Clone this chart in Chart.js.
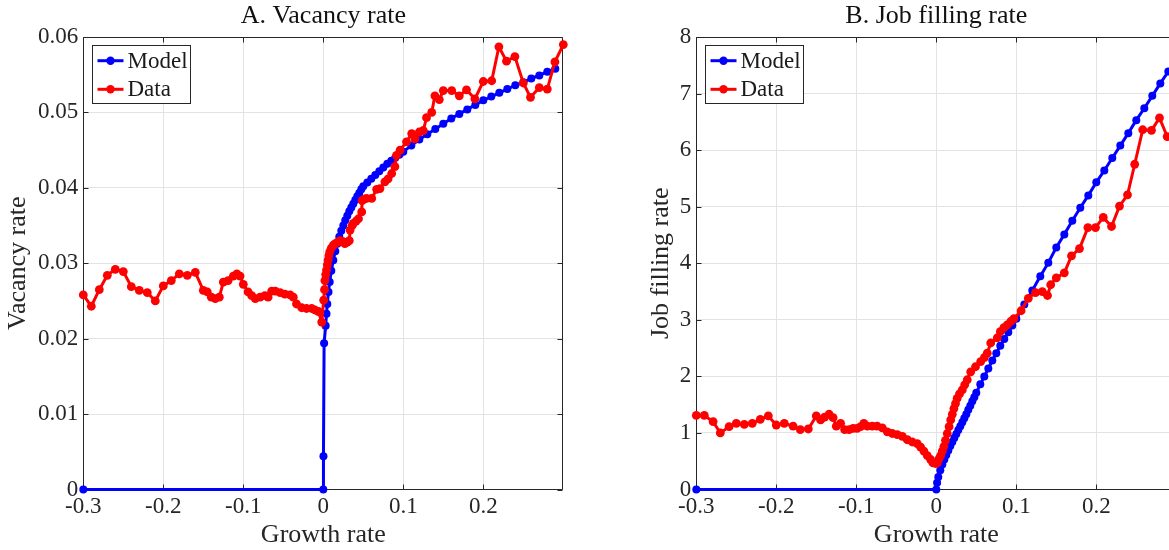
<!DOCTYPE html>
<html><head><meta charset="utf-8">
<script src="https://cdn.jsdelivr.net/npm/chart.js@4.4.1/dist/chart.umd.min.js"></script>
<style>
html,body{margin:0;padding:0;background:#fff;overflow:hidden;width:1169px;height:550px;position:relative}
.wrap{position:absolute;top:0;height:550px}
#wA{left:0;width:613px}
#wB{left:613px;width:613px}
canvas{display:block}
</style></head><body>
<div class="wrap" id="wA"><canvas id="cA" width="613" height="550"></canvas></div>
<div class="wrap" id="wB"><canvas id="cB" width="613" height="550"></canvas></div>
<script>
// ---- tick values and labels ----
const xTicks = [-0.3, -0.2, -0.1, 0, 0.1, 0.2];
const xTickLabels = ['-0.3', '-0.2', '-0.1', '0', '0.1', '0.2'];
const yTicksA = [0, 0.01, 0.02, 0.03, 0.04, 0.05, 0.06];
const yTickLabelsA = ['0', '0.01', '0.02', '0.03', '0.04', '0.05', '0.06'];
const yTicksB = [0, 1, 2, 3, 4, 5, 6, 7, 8];
const yTickLabelsB = ['0', '1', '2', '3', '4', '5', '6', '7', '8'];
const seriesNames = ['Model', 'Data'];

// ---- Panel A: vacancy rate ----
const modelA_x = [-0.3, 0, 0.0002, 0.001, 0.003, 0.004, 0.005, 0.0065, 0.008, 0.01,
  0.0125, 0.015, 0.0175, 0.02, 0.0225, 0.025, 0.0275, 0.03, 0.0325, 0.035,
  0.0375, 0.04, 0.0425, 0.045, 0.0475, 0.05, 0.055, 0.06, 0.065, 0.07,
  0.075, 0.08, 0.085, 0.09, 0.095, 0.1, 0.11, 0.12, 0.13, 0.14,
  0.15, 0.16, 0.17, 0.18, 0.19, 0.2, 0.21, 0.22, 0.23, 0.24, 0.25, 0.26, 0.27, 0.28, 0.29];
const modelA_y = [0, 0, 0.0044, 0.0194, 0.0217, 0.0233, 0.0246, 0.0262, 0.0275, 0.0290,
  0.0304, 0.0316, 0.0326, 0.0335, 0.0343, 0.0350, 0.0357, 0.0363, 0.0369, 0.0374,
  0.0379, 0.0384, 0.0389, 0.0393, 0.0398, 0.0402, 0.0407, 0.0412, 0.0417, 0.0422,
  0.0427, 0.0432, 0.0436, 0.0440, 0.0444, 0.0448, 0.0456, 0.0464, 0.0471, 0.0478,
  0.0485, 0.0492, 0.0498, 0.0504, 0.0510, 0.0516, 0.0521, 0.0526, 0.0531, 0.0536, 0.0540, 0.0545, 0.0549, 0.0554, 0.0558];
const dataA_x = [-0.3, -0.29, -0.28, -0.27, -0.26, -0.25, -0.24, -0.23, -0.22, -0.21,
  -0.2, -0.19, -0.18, -0.17, -0.16, -0.15, -0.145, -0.14, -0.135, -0.13,
  -0.125, -0.119, -0.1125, -0.108, -0.104, -0.1, -0.094, -0.0895, -0.085, -0.079,
  -0.073, -0.069, -0.0645, -0.06, -0.054, -0.048, -0.0415, -0.0375, -0.0335, -0.027,
  -0.021, -0.0145, -0.0105, -0.006, -0.002, 0.0005, 0.0015, 0.002, 0.003, 0.004,
  0.005, 0.006, 0.007, 0.008, 0.01, 0.0125, 0.015, 0.018, 0.021, 0.024,
  0.027, 0.03, 0.0325, 0.0335, 0.036, 0.0375, 0.041, 0.044, 0.048, 0.0485,
  0.051, 0.054, 0.0605, 0.0667, 0.0708, 0.077, 0.081, 0.0855, 0.0895, 0.0915,
  0.096, 0.104, 0.1105, 0.1145, 0.12, 0.125, 0.129, 0.1355, 0.1395, 0.145,
  0.15, 0.1605, 0.17, 0.179, 0.1895, 0.2, 0.2105, 0.2195, 0.229, 0.2395,
  0.25, 0.259, 0.27, 0.28, 0.2895, 0.3];
const dataA_y = [0.0258, 0.0243, 0.0265, 0.0284, 0.0292, 0.0289, 0.0269, 0.0264, 0.0261, 0.0250,
  0.0270, 0.0277, 0.0286, 0.0284, 0.0288, 0.0264, 0.0262, 0.0255, 0.0253, 0.0255,
  0.0275, 0.0277, 0.0283, 0.0286, 0.0283, 0.0272, 0.0262, 0.0257, 0.0253, 0.0255,
  0.0257, 0.0255, 0.0263, 0.0263, 0.0261, 0.0259, 0.0258, 0.0255, 0.0246, 0.0241,
  0.0240, 0.0240, 0.0238, 0.0236, 0.0222, 0.0251, 0.0265, 0.0277, 0.0285, 0.0291,
  0.0298, 0.0304, 0.0310, 0.0315, 0.0320, 0.0324, 0.0326, 0.0328, 0.0330, 0.0329,
  0.0326, 0.0328, 0.0330, 0.0344, 0.0350, 0.0353, 0.0356, 0.0359, 0.0368, 0.0383,
  0.0385, 0.0386, 0.0386, 0.0398, 0.0399, 0.0408, 0.0412, 0.0419, 0.0428, 0.0443,
  0.0450, 0.0461, 0.0472, 0.0465, 0.0474, 0.0476, 0.0493, 0.0500, 0.0522, 0.0517,
  0.0529, 0.0529, 0.0522, 0.0530, 0.0518, 0.0541, 0.0542, 0.0587, 0.0568, 0.0574,
  0.0539, 0.0520, 0.0533, 0.0531, 0.0567, 0.0590];

// ---- Panel B: job filling rate ----
const modelB_x = [-0.3, 0, 0.001, 0.0025, 0.005, 0.0075, 0.01, 0.0125, 0.015, 0.0175,
  0.02, 0.0225, 0.025, 0.0275, 0.03, 0.0325, 0.035, 0.0375, 0.04, 0.0425,
  0.045, 0.0475, 0.05, 0.055, 0.06, 0.065, 0.07, 0.075, 0.08, 0.085,
  0.09, 0.095, 0.1, 0.11, 0.12, 0.13, 0.14, 0.15, 0.16, 0.17,
  0.18, 0.19, 0.2, 0.21, 0.22, 0.23, 0.24, 0.25, 0.26, 0.27, 0.28, 0.29];
const modelB_y = [0, 0, 0.12, 0.22, 0.34, 0.44, 0.53, 0.61, 0.69, 0.77,
  0.84, 0.91, 0.98, 1.05, 1.12, 1.19, 1.26, 1.33, 1.41, 1.48,
  1.56, 1.63, 1.71, 1.86, 2.00, 2.14, 2.28, 2.41, 2.54, 2.66,
  2.78, 2.90, 3.02, 3.27, 3.52, 3.77, 4.01, 4.28, 4.51, 4.75,
  4.98, 5.20, 5.43, 5.64, 5.86, 6.08, 6.30, 6.53, 6.74, 6.96, 7.18, 7.39];
const dataB_x = [-0.3, -0.29, -0.279, -0.27, -0.259, -0.25, -0.24, -0.23, -0.22, -0.21,
  -0.2, -0.19, -0.179, -0.17, -0.16, -0.15, -0.1446, -0.1396, -0.134, -0.129,
  -0.125, -0.1196, -0.1146, -0.109, -0.104, -0.099, -0.0946, -0.0905, -0.0862, -0.08,
  -0.074, -0.0675, -0.0612, -0.055, -0.0488, -0.0425, -0.0363, -0.03, -0.0238, -0.0196,
  -0.0155, -0.0113, -0.0071, -0.0042, -0.0009, 0.0012, 0.0033, 0.0054, 0.0075, 0.0095,
  0.0115, 0.0137, 0.016, 0.018, 0.02, 0.022, 0.024, 0.026, 0.029, 0.0325,
  0.0355, 0.0387, 0.043, 0.049, 0.0554, 0.06, 0.0637, 0.068, 0.0762, 0.08,
  0.0845, 0.0887, 0.093, 0.097, 0.106, 0.115, 0.124, 0.1325, 0.139, 0.143,
  0.15, 0.16, 0.169, 0.179, 0.1895, 0.199, 0.2087, 0.219, 0.229, 0.239,
  0.248, 0.258, 0.269, 0.279, 0.2886];
const dataB_y = [1.31, 1.31, 1.20, 1.00, 1.11, 1.17, 1.15, 1.17, 1.24, 1.30,
  1.14, 1.17, 1.12, 1.06, 1.07, 1.30, 1.23, 1.28, 1.33, 1.27,
  1.12, 1.17, 1.06, 1.06, 1.08, 1.08, 1.11, 1.17, 1.12, 1.12,
  1.12, 1.09, 1.02, 0.99, 0.97, 0.94, 0.88, 0.84, 0.81, 0.75,
  0.68, 0.60, 0.53, 0.47, 0.46, 0.47, 0.54, 0.60, 0.68, 0.76,
  0.87, 0.99, 1.11, 1.23, 1.33, 1.43, 1.52, 1.61, 1.69, 1.76,
  1.85, 1.94, 2.08, 2.17, 2.26, 2.33, 2.41, 2.59, 2.68, 2.79,
  2.86, 2.91, 2.97, 3.02, 3.16, 3.38, 3.48, 3.50, 3.43, 3.62,
  3.74, 3.83, 4.13, 4.26, 4.63, 4.63, 4.81, 4.65, 5.01, 5.21,
  5.75, 6.36, 6.35, 6.57, 6.24];

// ---- styling ----
const FONT = '"Liberation Serif", "Times New Roman", serif';
const AXIS_COLOR = '#262626';
const GRID_COLOR = '#e3e3e3';
const BLUE = '#0000ff';
const RED = '#ff0000';

const pts = (xs, ys) => xs.map((x, i) => ({x: x, y: ys[i]}));

const matlabAxes = {
  id: 'matlabAxes',
  beforeDatasetsDraw(chart) {
    const {ctx, chartArea: a, scales: {x, y}} = chart;
    const L = Math.round(a.left) + 0.5, R = Math.round(a.right) - 0.5;
    const T = Math.round(a.top) + 0.5, B = Math.round(a.bottom) - 0.5;
    ctx.save();
    ctx.strokeStyle = AXIS_COLOR;
    ctx.lineWidth = 1;
    ctx.beginPath();
    x.ticks.forEach(t => {
      const px = Math.round(x.getPixelForValue(t.value)) + 0.5;
      ctx.moveTo(px, B); ctx.lineTo(px, B - 5);
      ctx.moveTo(px, T); ctx.lineTo(px, T + 5);
    });
    y.ticks.forEach(t => {
      const py = Math.round(y.getPixelForValue(t.value)) + 0.5;
      ctx.moveTo(L, py); ctx.lineTo(L + 5, py);
      ctx.moveTo(R, py); ctx.lineTo(R - 5, py);
    });
    ctx.moveTo(L, T); ctx.lineTo(R, T); ctx.lineTo(R, B); ctx.lineTo(L, B); ctx.closePath();
    ctx.stroke();
    ctx.restore();
  },
  afterDraw(chart) {
    const {ctx, chartArea: a} = chart;
    const bx = Math.round(a.left + 8.4) + 0.5, by = 45.5, bw = 98, bh = 58;
    ctx.save();
    ctx.fillStyle = '#ffffff';
    ctx.fillRect(bx, by, bw, bh);
    ctx.strokeStyle = AXIS_COLOR;
    ctx.lineWidth = 1;
    ctx.strokeRect(bx, by, bw, bh);
    ctx.font = '23px ' + FONT;
    ctx.textAlign = 'left';
    ctx.textBaseline = 'middle';
    chart.data.datasets.forEach((ds, i) => {
      const ry = 60.7 + i * 28.6;
      ctx.strokeStyle = ds.borderColor;
      ctx.lineWidth = 3;
      ctx.beginPath();
      ctx.moveTo(bx + 5, ry); ctx.lineTo(bx + 31, ry);
      ctx.stroke();
      ctx.fillStyle = ds.borderColor;
      ctx.beginPath();
      ctx.arc(bx + 18, ry, 4.2, 0, Math.PI * 2);
      ctx.fill();
      ctx.fillStyle = '#1a1a1a';
      ctx.fillText(ds.label, bx + 35, ry + 1);
    });
    ctx.restore();
  }
};

function makeChart(id, o) {
  return new Chart(document.getElementById(id), {
    type: 'line',
    data: {
      datasets: [
        {label: seriesNames[0], data: pts(o.mx, o.my), borderColor: BLUE, backgroundColor: BLUE,
         borderWidth: 3, pointRadius: 4, pointBorderWidth: 0, pointHoverRadius: 0,
         tension: 0, clip: false, order: 2},
        {label: seriesNames[1], data: pts(o.dx, o.dy), borderColor: RED, backgroundColor: RED,
         borderWidth: 3, pointRadius: 4.4, pointBorderWidth: 0, pointHoverRadius: 0,
         tension: 0, clip: false, order: 1}
      ]
    },
    options: {
      responsive: false,
      animation: false,
      events: [],
      layout: {padding: {left: 0, right: 49.7, top: 0, bottom: 0}},
      plugins: {
        legend: {display: false},
        tooltip: {enabled: false},
        title: {display: true, text: o.title, fullSize: false, color: '#111',
                font: {family: FONT, size: 26, weight: 'normal', lineHeight: 1},
                padding: {top: 3.2, bottom: 7.8}}
      },
      scales: {
        x: {
          type: 'linear', min: -0.3, max: 0.3,
          afterBuildTicks: s => { s.ticks = xTicks.map(v => ({value: v})); },
          afterFit: s => { s.height = 60.5; },
          ticks: {callback: v => xTickLabels[xTicks.indexOf(v)], color: AXIS_COLOR, padding: 6.2,
                  maxRotation: 0, autoSkip: false, font: {family: FONT, size: 23, lineHeight: 1}},
          grid: {color: GRID_COLOR, drawTicks: false, lineWidth: 1},
          border: {display: false},
          title: {display: true, text: 'Growth rate', color: AXIS_COLOR,
                  font: {family: FONT, size: 26, lineHeight: 1}, padding: {top: 0, bottom: 1.5}}
        },
        y: {
          type: 'linear', min: o.yMin, max: o.yMax,
          afterBuildTicks: s => { s.ticks = o.yTicks.map(v => ({value: v})); },
          afterFit: s => { s.width = 83.3; },
          ticks: {callback: v => o.yLabels[o.yTicks.indexOf(v)], color: AXIS_COLOR, padding: 5,
                  autoSkip: false, font: {family: FONT, size: 23, lineHeight: 1}},
          grid: {color: GRID_COLOR, drawTicks: false, lineWidth: 1},
          border: {display: false},
          title: {display: true, text: o.yTitle, color: AXIS_COLOR,
                  font: {family: FONT, size: 26, lineHeight: 1}, padding: {top: o.yTitlePad, bottom: 0}}
        }
      }
    },
    plugins: [matlabAxes]
  });
}

makeChart('cA', {title: 'A. Vacancy rate', yTitle: 'Vacancy rate', yTitlePad: 5.2,
  yMin: 0, yMax: 0.06, yTicks: yTicksA, yLabels: yTickLabelsA,
  mx: modelA_x, my: modelA_y, dx: dataA_x, dy: dataA_y});
makeChart('cB', {title: 'B. Job filling rate', yTitle: 'Job filling rate', yTitlePad: 35.2,
  yMin: 0, yMax: 8, yTicks: yTicksB, yLabels: yTickLabelsB,
  mx: modelB_x, my: modelB_y, dx: dataB_x, dy: dataB_y});
</script>
</body></html>
